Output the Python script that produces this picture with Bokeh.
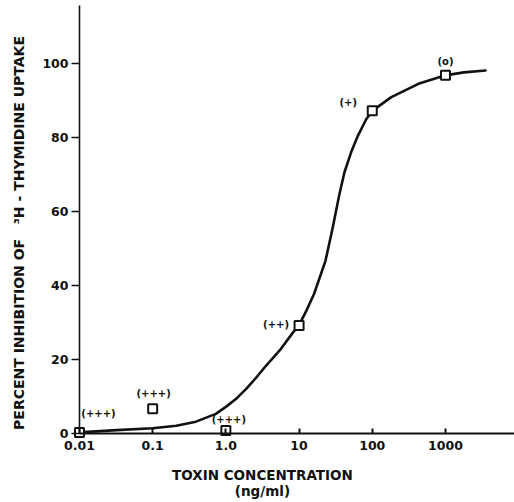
from bokeh.plotting import figure
from bokeh.models import ColumnDataSource, FixedTicker, Label
from bokeh.core.properties import value
from bokeh.embed import file_html
from bokeh.resources import INLINE

# ---- data ----
conc = [0.01, 0.1, 1.0, 10, 100, 1000]                 # ng/ml
inhibition = [0.3, 6.7, 0.8, 29.2, 87.2, 96.8]         # percent
grades = ["(+++)", "(+++)", "(+++)", "(++)", "(+)", "(o)"]

curve_x = [0.01, 0.032, 0.1, 0.21, 0.39, 0.73, 1.0, 1.37, 1.88, 2.57,
           3.53, 5.66, 8.18, 10, 12.6, 16, 22.9, 28.8, 35.5, 41.7,
           52.5, 63, 83, 100, 182, 427, 1000, 1780, 3530]
curve_y = [0.3, 0.9, 1.4, 2.1, 3.2, 5.3, 7.2, 9.3, 12.0, 15.0,
           18.3, 22.9, 27.2, 29.3, 33.2, 37.7, 46.6, 55.6, 64.6, 70.6,
           76.5, 80.3, 85.0, 87.2, 90.9, 94.5, 96.8, 97.6, 98.1]

x_ticks = [0.01, 0.1, 1.0, 10, 100, 1000]
x_tick_labels = ["0.01", "0.1", "1.0", "10", "100", "1000"]
y_ticks = [0, 20, 40, 60, 80, 100]

x_title = "TOXIN CONCENTRATION"
x_units = "(ng/ml)"
y_title = "PERCENT INHIBITION OF\u00a0\u00a0\u00a0\u00b3H\u00a0-\u00a0THYMIDINE UPTAKE"

# ---- label placement (screen pixel offsets, styling only) ----
lbl_dx = [19, 1, 3, -23, -24, 0]
lbl_dy = [-19, -15, -11, -1, -8, -14]

FONT = "DejaVu Sans"
INK = "#111111"

# frame fills the whole canvas; axes are pinned at x=0.01 and y=0
p = figure(width=514, height=502, x_axis_type="log",
           x_range=(0.000834, 8770), y_range=(-18.65, 117.03),
           output_backend="svg", toolbar_location=None,
           min_border_left=0, min_border_right=0,
           min_border_top=0, min_border_bottom=0)
p.grid.visible = False
p.outline_line_color = None
p.background_fill_color = "white"

xa = p.xaxis[0]
xa.fixed_location = 0
xa.bounds = (0.01, 10000)
xa.ticker = FixedTicker(ticks=x_ticks)
xa.major_label_overrides = {t: s for t, s in zip(x_ticks, x_tick_labels)}
xa.major_tick_in = 5
xa.major_tick_out = 0
xa.minor_tick_in = 0
xa.minor_tick_out = 0
xa.major_label_standoff = 8
xa.axis_line_width = 2
xa.major_tick_line_width = 2

ya = p.yaxis[0]
ya.fixed_location = 0.01
ya.bounds = (0, 115.7)
ya.ticker = FixedTicker(ticks=y_ticks)
ya.major_tick_in = 0
ya.major_tick_out = 8
ya.minor_tick_in = 0
ya.minor_tick_out = 0
ya.major_label_standoff = 3
ya.axis_line_width = 1.6
ya.major_tick_line_width = 1.6

for ax in (xa, ya):
    ax.axis_line_color = INK
    ax.major_tick_line_color = INK
    ax.major_label_text_font = FONT
    ax.major_label_text_font_style = "bold"
    ax.major_label_text_font_size = "12.5px"
    ax.major_label_text_color = INK

p.line(curve_x, curve_y, line_color=INK, line_width=2.6, line_join="round", line_cap="round")

src = ColumnDataSource(dict(x=conc, y=inhibition, lbl=grades, dx=lbl_dx, dy=lbl_dy))
p.scatter("x", "y", source=src, marker="square", size=9, fill_color="white",
          line_color=INK, line_width=2)
p.text("x", "y", text="lbl", x_offset="dx", y_offset="dy", source=src,
       text_font=value(FONT), text_font_style="bold", text_font_size="10px",
       text_align="center", text_baseline="middle", text_color=INK)

p.add_layout(Label(x=3.16, y=-11.3, text=x_title, text_font=FONT, text_font_style="bold",
                   text_font_size="13.5px", text_align="center", text_baseline="middle",
                   text_color=INK))
p.add_layout(Label(x=3.16, y=-15.6, text=x_units, text_font=FONT, text_font_style="bold",
                   text_font_size="13.5px", text_align="center", text_baseline="middle",
                   text_color=INK))
p.add_layout(Label(x=0.00151, y=54.2, text=y_title, angle=1.5707963, text_font=FONT,
                   text_font_style="bold", text_font_size="14px", text_align="center",
                   text_baseline="middle", text_color=INK))

open("out.html", "w").write(file_html(p, INLINE))
